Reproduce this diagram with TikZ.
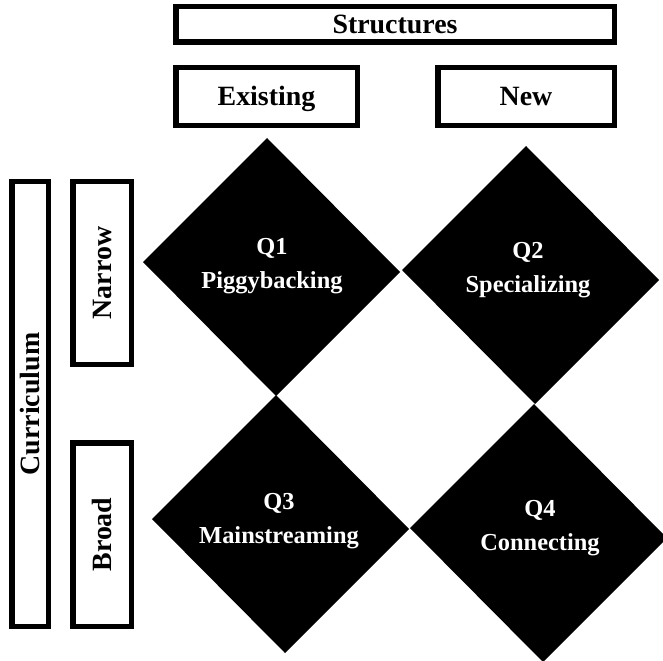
\documentclass[tikz,border=0pt]{standalone}
\usepackage{fontspec}
\setmainfont{Liberation Serif}
\begin{document}
\begin{tikzpicture}[x=1bp,y=-1bp,
  hdr/.style={draw=black, line width=5.5bp, fill=white, inner sep=0pt,
    font=\fontsize{28}{34}\selectfont\bfseries, text height=19bp, text depth=0bp},
  side/.style={hdr, rotate=90},
  quadshape/.style={fill=black},
  qlabel/.style={text=white, align=center, inner sep=0pt,
    font=\fontsize{24.5}{34}\selectfont\bfseries}]
\clip (0,0) rectangle (663,661);
\fill[white] (0,0) rectangle (663,661);
% header boxes
\node[hdr, minimum width=438.5bp, minimum height=35.5bp] (structures) at (395,24.5) {Structures};
\node[hdr, minimum width=181.5bp, minimum height=57.5bp] (existing) at (266.5,96.5) {Existing};
\node[hdr, minimum width=176.5bp, minimum height=57.5bp] (new) at (526,96.5) {New};
% side boxes
\node[side, minimum width=444.5bp, minimum height=36.5bp] (curriculum) at (30,404) {Curriculum};
\node[side, minimum width=182.5bp, minimum height=58.5bp] (narrow) at (102,273) {Narrow};
\node[side, minimum width=183.5bp, minimum height=58.5bp] (broad) at (102,534.5) {Broad};
% diamonds
\foreach \cx/\cy in {271.5/267, 530.5/275, 280.5/524, 538.5/533}{
  \begin{scope}[shift={(\cx,\cy)}]
    \fill[quadshape] (-4.5,-129) -- (128.5,5) -- (4.5,129) -- (-128.5,-5) -- cycle;
  \end{scope}
}
% labels
\node[qlabel] (q1) at (272,266.5) {Q1\\Piggybacking};
\node[qlabel] (q2) at (528,269.7) {Q2\\Specializing};
\node[qlabel] (q3) at (279,521.4) {Q3\\Mainstreaming};
\node[qlabel] (q4) at (540,528.1) {Q4\\Connecting};
\end{tikzpicture}
\end{document}
